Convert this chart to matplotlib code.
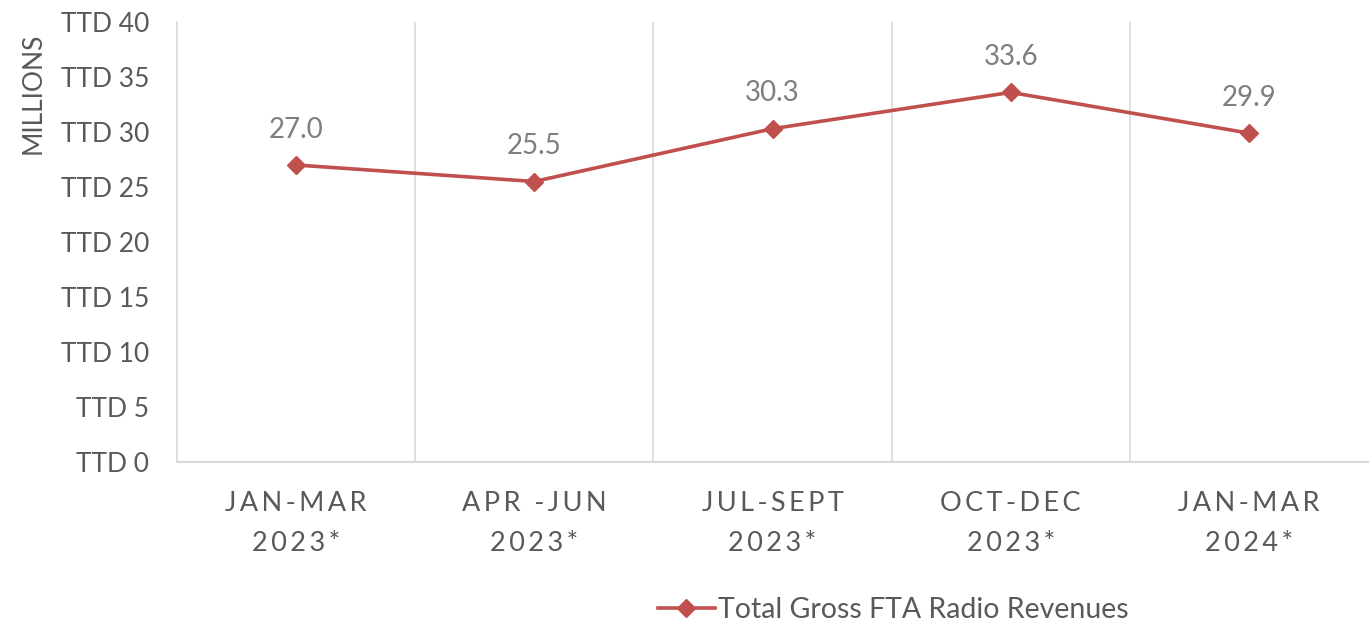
import matplotlib
matplotlib.use("Agg")
import matplotlib.pyplot as plt

categories = ["JAN-MAR\n2023*", "APR -JUN\n2023*", "JUL-SEPT\n2023*", "OCT-DEC\n2023*", "JAN-MAR\n2024*"]
values = [27.0, 25.5, 30.3, 33.6, 29.9]
yticks = [0, 5, 10, 15, 20, 25, 30, 35, 40]
ytick_labels = ["TTD %d" % v for v in yticks]
series_name = "Total Gross FTA Radio Revenues"

plt.rcParams['font.family'] = ['Lato', 'DejaVu Sans']

def spaced(s):
    return "\n".join("\u2009".join(list(line)) for line in s.split("\n"))

fig = plt.figure(figsize=(13.7, 6.23), dpi=100)
ax = fig.add_axes([177/1370, 161/623, (1368-177)/1370, 440/623])

x = list(range(len(values)))
color = "#C0504D"
line, = ax.plot(x, values, color=color, lw=2.6, marker="D", markersize=9,
                label=series_name, zorder=3)
for xi, v in zip(x, values):
    ax.annotate("%.1f" % v, (xi, v), xytext=(0, 16), textcoords="offset points",
                ha="center", va="bottom", fontsize=20, color="#7F7F7F")

ax.set_xlim(-0.5, len(values) - 0.5)
ax.set_ylim(0, 40)
ax.set_yticks(yticks)
ax.set_yticklabels(ytick_labels, fontsize=19, color="#595959")
ax.set_xticks(x)
ax.set_xticklabels([spaced(c) for c in categories], fontsize=19.5, color="#595959",
                   linespacing=1.75)
ax.tick_params(axis="both", length=0)
ax.tick_params(axis="y", pad=20)
ax.tick_params(axis="x", pad=21)

for b in [i + 0.5 for i in range(len(values) - 1)]:
    ax.axvline(b, color="#D9D9D9", lw=1.2, zorder=1)
for s in ["top", "right"]:
    ax.spines[s].set_visible(False)
ax.spines["left"].set_color("#D9D9D9")
ax.spines["bottom"].set_color("#D9D9D9")
ax.spines["left"].set_linewidth(1.2)
ax.spines["bottom"].set_linewidth(1.5)

fig.text(33/1370, 1 - 93/623, "MILLIONS", rotation=90, ha="center", va="center",
         fontsize=19, color="#595959")

fig.legend(handles=[line], loc="center", bbox_to_anchor=(893/1370, 1 - 610/623),
           frameon=False, fontsize=20.5, handlelength=2.0, labelcolor="#595959",
           handletextpad=0.1)

fig.savefig("out.png", dpi=100)
